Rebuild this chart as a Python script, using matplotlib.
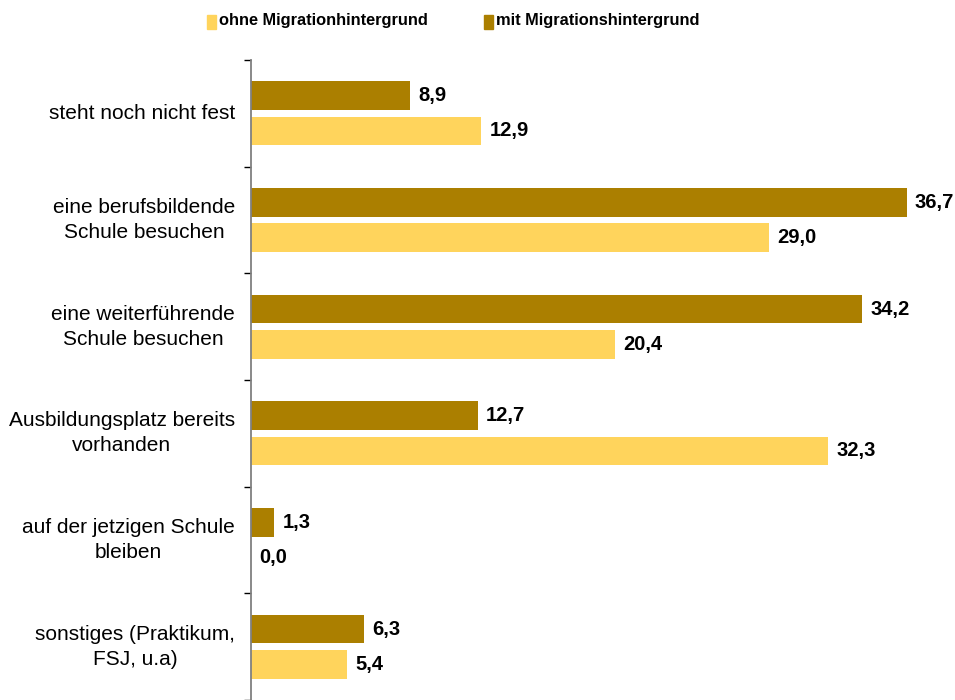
import matplotlib
matplotlib.use("Agg")
import matplotlib.pyplot as plt
import matplotlib.transforms as mtransforms
from matplotlib.patches import Rectangle
import numpy as np

plt.rcParams['font.family'] = ['Liberation Sans', 'DejaVu Sans']

# Daten (Prozent), von oben nach unten
kategorien = [
    "steht noch nicht fest",
    "eine berufsbildende\nSchule besuchen",
    "eine weiterführende\nSchule besuchen",
    "Ausbildungsplatz bereits\nvorhanden",
    "auf der jetzigen Schule\nbleiben",
    "sonstiges (Praktikum,\nFSJ, u.a)",
]
mit_migration = [8.9, 36.7, 34.2, 12.7, 1.3, 6.3]
ohne_migration = [12.9, 29.0, 20.4, 32.3, 0.0, 5.4]

HELL = "#FFD45C"
DUNKEL = "#AB7F00"

fig = plt.figure(figsize=(9.55, 7.0), dpi=100)
ax = fig.add_axes([251 / 955, 0.0, 1 - 251 / 955 - 0.004, 1 - 60 / 700])

n = len(kategorien)
pos = np.arange(n)[::-1]  # oberste Kategorie oben
h = 0.27
off = 0.165

ax.barh(pos + off, mit_migration, height=h, color=DUNKEL)
ax.barh(pos - off, ohne_migration, height=h, color=HELL)

for y, v in zip(pos + off, mit_migration):
    ax.annotate(f"{v:.1f}".replace(".", ","), (v, y), xytext=(6, 0),
                textcoords="offset points", va="center", ha="left",
                fontsize=14.5, fontweight="bold")
for y, v in zip(pos - off, ohne_migration):
    ax.annotate(f"{v:.1f}".replace(".", ","), (v, y), xytext=(6, 0),
                textcoords="offset points", va="center", ha="left",
                fontsize=14.5, fontweight="bold")

# Kategorienbeschriftung: Block rechtsbündig, Zeilen zentriert
trans = mtransforms.blended_transform_factory(fig.transFigure, ax.transData)
for y, lab in zip(pos, kategorien):
    ax.text(235 / 955, y, lab, transform=trans, ha="right", va="center",
            multialignment="center", fontsize=15, linespacing=1.42)

ax.set_xlim(0, 39.2)
ax.set_ylim(-0.5, n - 0.5)
ax.set_yticks(np.arange(n + 1) - 0.5)
ax.set_yticklabels([])
ax.tick_params(axis="y", direction="out", length=5, width=1, color="black")
ax.set_xticks([])
for s in ["top", "right", "bottom"]:
    ax.spines[s].set_visible(False)
ax.spines["left"].set_color("#808080")
ax.spines["left"].set_linewidth(1.3)

# Legende oben
legende = [("ohne Migrationhintergrund", HELL, 207), ("mit Migrationshintergrund", DUNKEL, 484)]
for text, farbe, x0 in legende:
    fig.patches.append(Rectangle((x0 / 955, 1 - 29 / 700), 9 / 955, 14 / 700,
                                 transform=fig.transFigure, color=farbe))
    fig.text((x0 + 12) / 955, 1 - 21 / 700, text, va="center", ha="left",
             fontsize=11.8, fontweight="bold")

fig.savefig("out.png", dpi=100)
